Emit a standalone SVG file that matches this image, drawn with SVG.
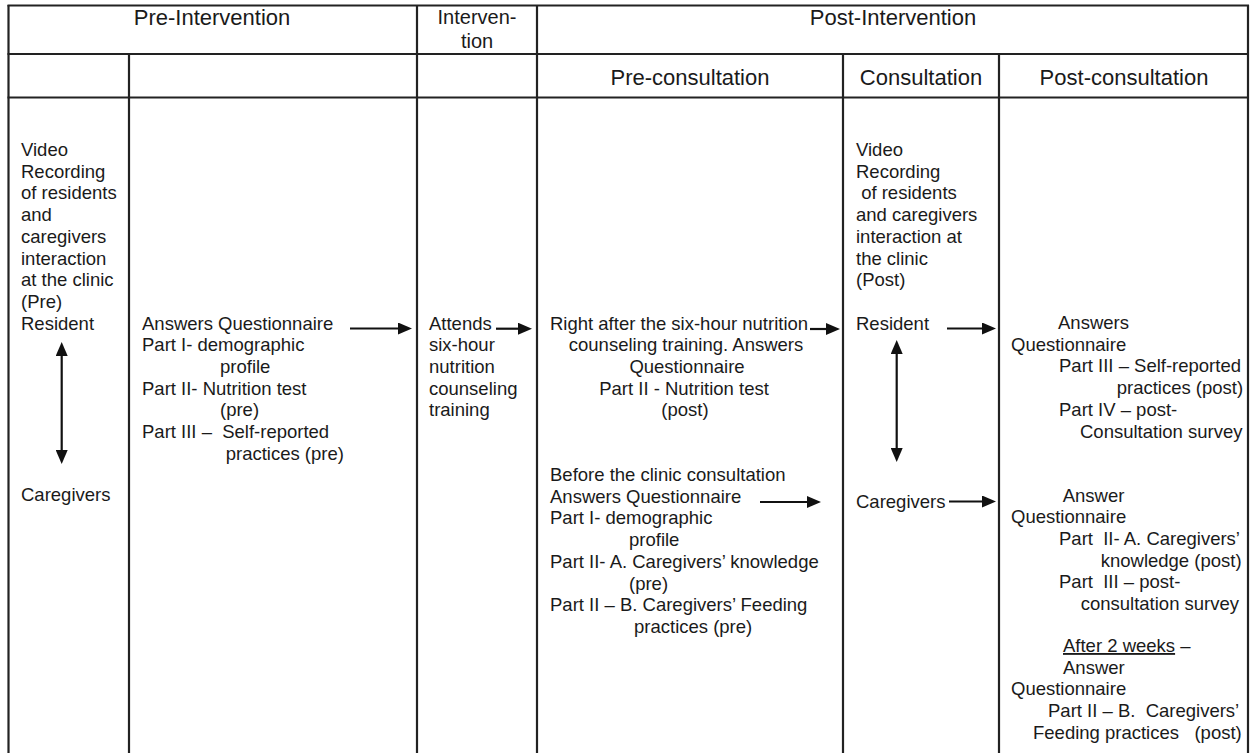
<svg xmlns="http://www.w3.org/2000/svg" width="1251" height="753" viewBox="0 0 1251 753">
<style>
text{font-family:"Liberation Sans",Arial,sans-serif;fill:#1a1a1a}
.h{font-size:22px;text-anchor:middle}
.h2{font-size:20px;text-anchor:middle}
.b{font-size:18.5px}
.m{text-anchor:middle}
.grid line{stroke:#222;stroke-width:2.2}
.conn line{stroke:#111;stroke-width:2.2}
</style>
<defs>
<marker id="ah" markerUnits="userSpaceOnUse" markerWidth="14" markerHeight="12" refX="0" refY="6" orient="auto-start-reverse" viewBox="0 0 14 12">
<path d="M0,0 L14,6 L0,12 Z" fill="#111"/>
</marker>
</defs>
<rect width="1251" height="753" fill="#fff"/>
<g class="grid" id="table">
<line x1="7.5" y1="5.5" x2="1249" y2="5.5"/>
<line x1="7.5" y1="54" x2="1249" y2="54"/>
<line x1="7.5" y1="97.5" x2="1249" y2="97.5"/>
<line x1="8.5" y1="5" x2="8.5" y2="753"/>
<line x1="129" y1="54" x2="129" y2="753"/>
<line x1="417" y1="5" x2="417" y2="753"/>
<line x1="537" y1="5" x2="537" y2="753"/>
<line x1="843" y1="54" x2="843" y2="753"/>
<line x1="999" y1="54" x2="999" y2="753"/>
<line x1="1248" y1="5" x2="1248" y2="753"/>
</g>
<g id="headers">
<text class="h" x="212" y="25">Pre-Intervention</text>
<text class="h2" x="477" y="24">Interven-</text>
<text class="h2" x="477" y="47.5">tion</text>
<text class="h" x="893" y="25">Post-Intervention</text>
<text class="h" x="690" y="85">Pre-consultation</text>
<text class="h" x="921" y="85">Consultation</text>
<text class="h" x="1124" y="85">Post-consultation</text>
</g>
<g id="pre-video">
<text class="b" x="21" y="156">Video</text>
<text class="b" x="21" y="177.7">Recording</text>
<text class="b" x="21" y="199.4">of residents</text>
<text class="b" x="21" y="221">and</text>
<text class="b" x="21" y="242.8">caregivers</text>
<text class="b" x="21" y="264.5">interaction</text>
<text class="b" x="21" y="286.2">at the clinic</text>
<text class="b" x="21" y="307.9">(Pre)</text>
<text class="b" x="21" y="329.6">Resident</text>
<text class="b" x="21" y="501">Caregivers</text>
</g>
<g id="pre-questionnaire">
<text class="b" x="142" y="329.6">Answers Questionnaire</text>
<text class="b" x="142" y="351.3">Part I- demographic</text>
<text class="b" x="220" y="373">profile</text>
<text class="b" x="142" y="394.7">Part II- Nutrition test</text>
<text class="b" x="220" y="416.4">(pre)</text>
<text class="b" x="142" y="438.1" xml:space="preserve">Part III –  Self-reported</text>
<text class="b" x="225.7" y="459.8">practices (pre)</text>
</g>
<g id="intervention">
<text class="b" x="429" y="329.6">Attends</text>
<text class="b" x="429" y="351.3">six-hour</text>
<text class="b" x="429" y="373">nutrition</text>
<text class="b" x="429" y="394.7">counseling</text>
<text class="b" x="429" y="416.4">training</text>
</g>
<g id="pre-consult-residents">
<text class="b" x="550" y="329.6">Right after the six-hour nutrition</text>
<text class="b m" x="686" y="351.3">counseling training. Answers</text>
<text class="b m" x="687" y="373">Questionnaire</text>
<text class="b m" x="684" y="394.7">Part II - Nutrition test</text>
<text class="b m" x="685" y="416.4">(post)</text>
</g>
<g id="pre-consult-caregivers">
<text class="b" x="550" y="481">Before the clinic consultation</text>
<text class="b" x="550" y="502.7">Answers Questionnaire</text>
<text class="b" x="550" y="524.4">Part I- demographic</text>
<text class="b" x="629" y="546.1">profile</text>
<text class="b" x="550" y="567.8">Part II- A. Caregivers’ knowledge</text>
<text class="b" x="629" y="589.5">(pre)</text>
<text class="b" x="550" y="611.2">Part II – B. Caregivers’ Feeding</text>
<text class="b" x="634" y="632.9">practices (pre)</text>
</g>
<g id="consultation">
<text class="b" x="856" y="156">Video</text>
<text class="b" x="856" y="177.7">Recording</text>
<text class="b" x="856" y="199.4" xml:space="preserve"> of residents</text>
<text class="b" x="856" y="221">and caregivers</text>
<text class="b" x="856" y="242.8">interaction at</text>
<text class="b" x="856" y="264.5">the clinic</text>
<text class="b" x="856" y="286.2">(Post)</text>
<text class="b" x="856" y="329.6">Resident</text>
<text class="b" x="856" y="508">Caregivers</text>
</g>
<g id="post-residents">
<text class="b" x="1058" y="329">Answers</text>
<text class="b" x="1011" y="350.7">Questionnaire</text>
<text class="b" x="1059" y="372.4">Part III – Self-reported</text>
<text class="b" x="1116.7" y="394.1">practices (post)</text>
<text class="b" x="1059" y="415.8">Part IV – post-</text>
<text class="b" x="1080" y="437.5">Consultation survey</text>
</g>
<g id="post-caregivers">
<text class="b" x="1062.7" y="501.5">Answer</text>
<text class="b" x="1011" y="523.2">Questionnaire</text>
<text class="b" x="1059" y="544.9" xml:space="preserve">Part  II- A. Caregivers’</text>
<text class="b" x="1100.7" y="566.6">knowledge (post)</text>
<text class="b" x="1059" y="588.3" xml:space="preserve">Part  III – post-</text>
<text class="b" x="1080.7" y="610">consultation survey</text>
<text class="b" x="1063" y="652"><tspan text-decoration="underline">After 2 weeks</tspan> –</text>
<text class="b" x="1063" y="673.7">Answer</text>
<text class="b" x="1011" y="695.4">Questionnaire</text>
<text class="b" x="1048" y="717.1" xml:space="preserve">Part II – B.  Caregivers’</text>
<text class="b" x="1033" y="738.8" xml:space="preserve">Feeding practices   (post)</text>
</g>
<g class="conn" id="connectors">
<line x1="61.7" y1="356" x2="61.7" y2="450" marker-start="url(#ah)" marker-end="url(#ah)"/>
<line x1="350" y1="328.5" x2="398" y2="328.5" marker-end="url(#ah)"/>
<line x1="496" y1="328.7" x2="518" y2="328.7" marker-end="url(#ah)"/>
<line x1="810" y1="329" x2="826" y2="329" marker-end="url(#ah)"/>
<line x1="760" y1="502" x2="807" y2="502" marker-end="url(#ah)"/>
<line x1="896.7" y1="354" x2="896.7" y2="448" marker-start="url(#ah)" marker-end="url(#ah)"/>
<line x1="947" y1="328.5" x2="982" y2="328.5" marker-end="url(#ah)"/>
<line x1="949" y1="501.5" x2="982" y2="501.5" marker-end="url(#ah)"/>
</g>
</svg>
